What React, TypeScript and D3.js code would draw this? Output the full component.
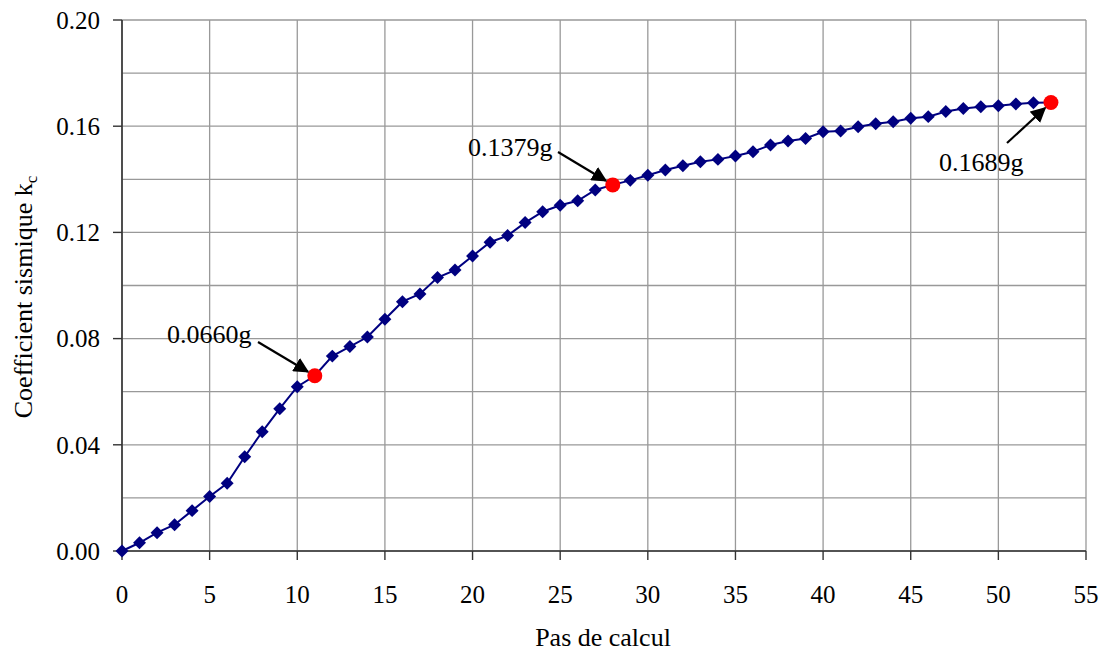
import React from "react";
import * as d3 from "d3";

const steps: number[] = Array.from({ length: 54 }, (_, i) => i);
const kcValues: number[] = [
  0, 0.0031, 0.0069, 0.0099, 0.0152, 0.0205, 0.0255, 0.0355, 0.0449, 0.0536,
  0.0619, 0.066, 0.0734, 0.077, 0.0806, 0.0873, 0.0939, 0.0968, 0.103, 0.1058,
  0.1111, 0.1163, 0.1188, 0.1237, 0.1278, 0.1302, 0.1319, 0.136, 0.1379, 0.1396,
  0.1415, 0.1435, 0.1451, 0.1466, 0.1475, 0.1488, 0.1504, 0.1529, 0.1544, 0.1554,
  0.1579, 0.1582, 0.1598, 0.1609, 0.1617, 0.163, 0.1636, 0.1655, 0.1667, 0.1673,
  0.1677, 0.1684, 0.1688, 0.1689,
];
const highlightSteps: number[] = [11, 28, 53];
const highlightLabels: string[] = ["0.0660g", "0.1379g", "0.1689g"];
const xTicks: number[] = [0, 5, 10, 15, 20, 25, 30, 35, 40, 45, 50, 55];
const yTicks: number[] = [0, 0.04, 0.08, 0.12, 0.16, 0.2];
const yGrid: number[] = [0, 0.02, 0.04, 0.06, 0.08, 0.1, 0.12, 0.14, 0.16, 0.18, 0.2];
const annotations = [
  { tx: 167, ty: 343, x1: 258, y1: 342 },
  { tx: 468, ty: 156, x1: 558, y1: 152 },
  { tx: 939, ty: 171, x1: 1007, y1: 143 },
];

const W = 1100;
const H = 654;
const FONT = "'Liberation Serif', 'Times New Roman', serif";

export default function App() {
  const x = d3.scaleLinear().domain([0, 55]).range([122, 1086]);
  const y = d3.scaleLinear().domain([0, 0.2]).range([551, 20]);
  const line = d3
    .line<number>()
    .x((_, i) => x(steps[i]))
    .y((d) => y(d));
  const diamond = d3.symbol().type(d3.symbolSquare).size(84)() as string;

  const arrowTip = (i: number) => {
    const s = highlightSteps[i];
    const px = x(s);
    const py = y(kcValues[s]);
    const a = annotations[i];
    const dx = px - a.x1;
    const dy = py - a.y1;
    const len = Math.hypot(dx, dy);
    const r = 8;
    return { x2: px - (dx / len) * r, y2: py - (dy / len) * r };
  };

  return (
    <svg
      width={W}
      height={H}
      style={{ position: "absolute", left: 0, top: 0, background: "#fff" }}
      fontFamily={FONT}
    >
      <defs>
        <marker
          id="arrow"
          viewBox="0 0 10 10"
          refX="9"
          refY="5"
          markerWidth="7"
          markerHeight="7"
          orient="auto"
          markerUnits="strokeWidth"
        >
          <path d="M0,0 L10,5 L0,10 z" fill="#000" />
        </marker>
      </defs>
      {yGrid.map((v) => (
        <line key={"hg" + v} x1={x(0)} x2={x(55)} y1={y(v)} y2={y(v)} stroke="#999" strokeWidth={1.3} />
      ))}
      {xTicks.map((v) => (
        <line key={"vg" + v} x1={x(v)} x2={x(v)} y1={y(0)} y2={y(0.2)} stroke="#999" strokeWidth={1.3} />
      ))}
      <line x1={x(0)} x2={x(0)} y1={y(0)} y2={y(0.2)} stroke="#333" strokeWidth={1.6} />
      <line x1={x(0)} x2={x(55)} y1={y(0)} y2={y(0)} stroke="#333" strokeWidth={1.6} />
      {yTicks.map((v) => (
        <g key={"yt" + v}>
          <line x1={x(0) - 9} x2={x(0)} y1={y(v)} y2={y(v)} stroke="#333" strokeWidth={1.4} />
          <text x={100} y={y(v)} dy="0.35em" textAnchor="end" fontSize={25} fill="#000">
            {v.toFixed(2)}
          </text>
        </g>
      ))}
      {xTicks.map((v) => (
        <g key={"xt" + v}>
          <line x1={x(v)} x2={x(v)} y1={y(0)} y2={y(0) + 9} stroke="#333" strokeWidth={1.4} />
          <text x={x(v)} y={603} textAnchor="middle" fontSize={25} fill="#000">
            {v}
          </text>
        </g>
      ))}
      <text x={603} y={646} textAnchor="middle" fontSize={26} fill="#000">
        Pas de calcul
      </text>
      <text transform="translate(32,297) rotate(-90)" textAnchor="middle" fontSize={26} fill="#000">
        Coefficient sismique k
        <tspan fontSize={17} dy={5}>c</tspan>
      </text>
      <path d={line(kcValues) as string} fill="none" stroke="#000080" strokeWidth={2} />
      {kcValues.map((v, i) => (
        <path
          key={"m" + i}
          d={diamond}
          transform={`translate(${x(steps[i])},${y(v)}) rotate(45)`}
          fill="#000080"
        />
      ))}
      {highlightSteps.map((s) => (
        <circle key={"h" + s} cx={x(s)} cy={y(kcValues[s])} r={7.5} fill="#ff0000" />
      ))}
      {annotations.map((a, i) => {
        const t = arrowTip(i);
        return (
          <g key={"an" + i}>
            <line x1={a.x1} y1={a.y1} x2={t.x2} y2={t.y2} stroke="#000" strokeWidth={2.2} markerEnd="url(#arrow)" />
            <text x={a.tx} y={a.ty} fontSize={26} fill="#000">
              {highlightLabels[i]}
            </text>
          </g>
        );
      })}
    </svg>
  );
}
